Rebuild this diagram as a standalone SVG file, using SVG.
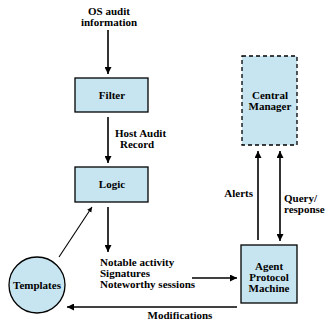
<svg xmlns="http://www.w3.org/2000/svg" width="325" height="322" viewBox="0 0 325 322">
  <style>
    .box { fill: #c7e5f0; stroke: #000; stroke-width: 1.3; }
    .dash { stroke-dasharray: 4 3; }
    .lbl { font-family: "Liberation Serif", "Times New Roman", serif; font-weight: bold; font-size: 11px; fill: #000; }
    .mid { text-anchor: middle; }
    .end { text-anchor: end; }
    .wire { stroke: #000; stroke-width: 1.6; fill: none; }
    .thin { stroke: #000; stroke-width: 1.1; fill: none; }
  </style>
  <defs>
    <marker id="arrow" viewBox="0 0 10 10" refX="10" refY="5" markerWidth="5" markerHeight="6" markerUnits="userSpaceOnUse" orient="auto-start-reverse">
      <path d="M0,0 L10,5 L0,10 z" fill="#000"/>
    </marker>
    <marker id="arrow-big" viewBox="0 0 10 10" refX="10" refY="5" markerWidth="9" markerHeight="7" markerUnits="userSpaceOnUse" orient="auto-start-reverse">
      <path d="M0,0 L10,5 L0,10 z" fill="#000"/>
    </marker>
  </defs>

  <!-- free-standing input label -->
  <text class="lbl mid" x="109" y="15">OS audit</text>
  <text class="lbl mid" x="109" y="26">information</text>

  <g id="connectors">
    <line class="wire" x1="108" y1="30" x2="108" y2="74" marker-end="url(#arrow-big)"/>
    <line class="wire" x1="108" y1="117" x2="108" y2="163" marker-end="url(#arrow-big)"/>
    <line class="wire" x1="108" y1="207" x2="108" y2="252" marker-end="url(#arrow-big)"/>
    <line class="thin" x1="59" y1="257" x2="92" y2="207" marker-end="url(#arrow)"/>
    <line class="wire" x1="192" y1="278" x2="237" y2="278" marker-end="url(#arrow-big)"/>
    <line class="wire" x1="237" y1="307" x2="67" y2="307" marker-end="url(#arrow-big)"/>
    <line class="wire" x1="258" y1="240" x2="258" y2="151" marker-end="url(#arrow-big)"/>
    <line class="wire" x1="280" y1="151" x2="280" y2="241" marker-start="url(#arrow-big)" marker-end="url(#arrow-big)"/>
    <text class="lbl" x="115" y="137">Host Audit</text>
    <text class="lbl" x="120" y="148">Record</text>
    <text class="lbl" x="100" y="266">Notable activity</text>
    <text class="lbl" x="100" y="277">Signatures</text>
    <text class="lbl" x="100" y="288">Noteworthy sessions</text>
    <text class="lbl mid" x="180" y="319">Modifications</text>
    <text class="lbl end" x="253" y="197">Alerts</text>
    <text class="lbl" x="284" y="202">Query/</text>
    <text class="lbl" x="284" y="213">response</text>
  </g>

  <g id="filter">
    <rect class="box" x="75" y="78" width="73" height="34"/>
    <text class="lbl mid" x="112" y="99">Filter</text>
  </g>

  <g id="logic">
    <rect class="box" x="75" y="167" width="73" height="35"/>
    <text class="lbl mid" x="112" y="188">Logic</text>
  </g>

  <g id="templates">
    <circle class="box" cx="37" cy="285" r="28"/>
    <text class="lbl mid" x="37" y="289">Templates</text>
  </g>

  <g id="central-manager">
    <rect class="box dash" x="242" y="56" width="55" height="89"/>
    <text class="lbl mid" x="270" y="99">Central</text>
    <text class="lbl mid" x="270" y="110">Manager</text>
  </g>

  <g id="agent-protocol-machine">
    <rect class="box" x="241" y="245" width="56" height="58"/>
    <text class="lbl mid" x="269" y="270">Agent</text>
    <text class="lbl mid" x="269" y="281">Protocol</text>
    <text class="lbl mid" x="269" y="292">Machine</text>
  </g>
</svg>
